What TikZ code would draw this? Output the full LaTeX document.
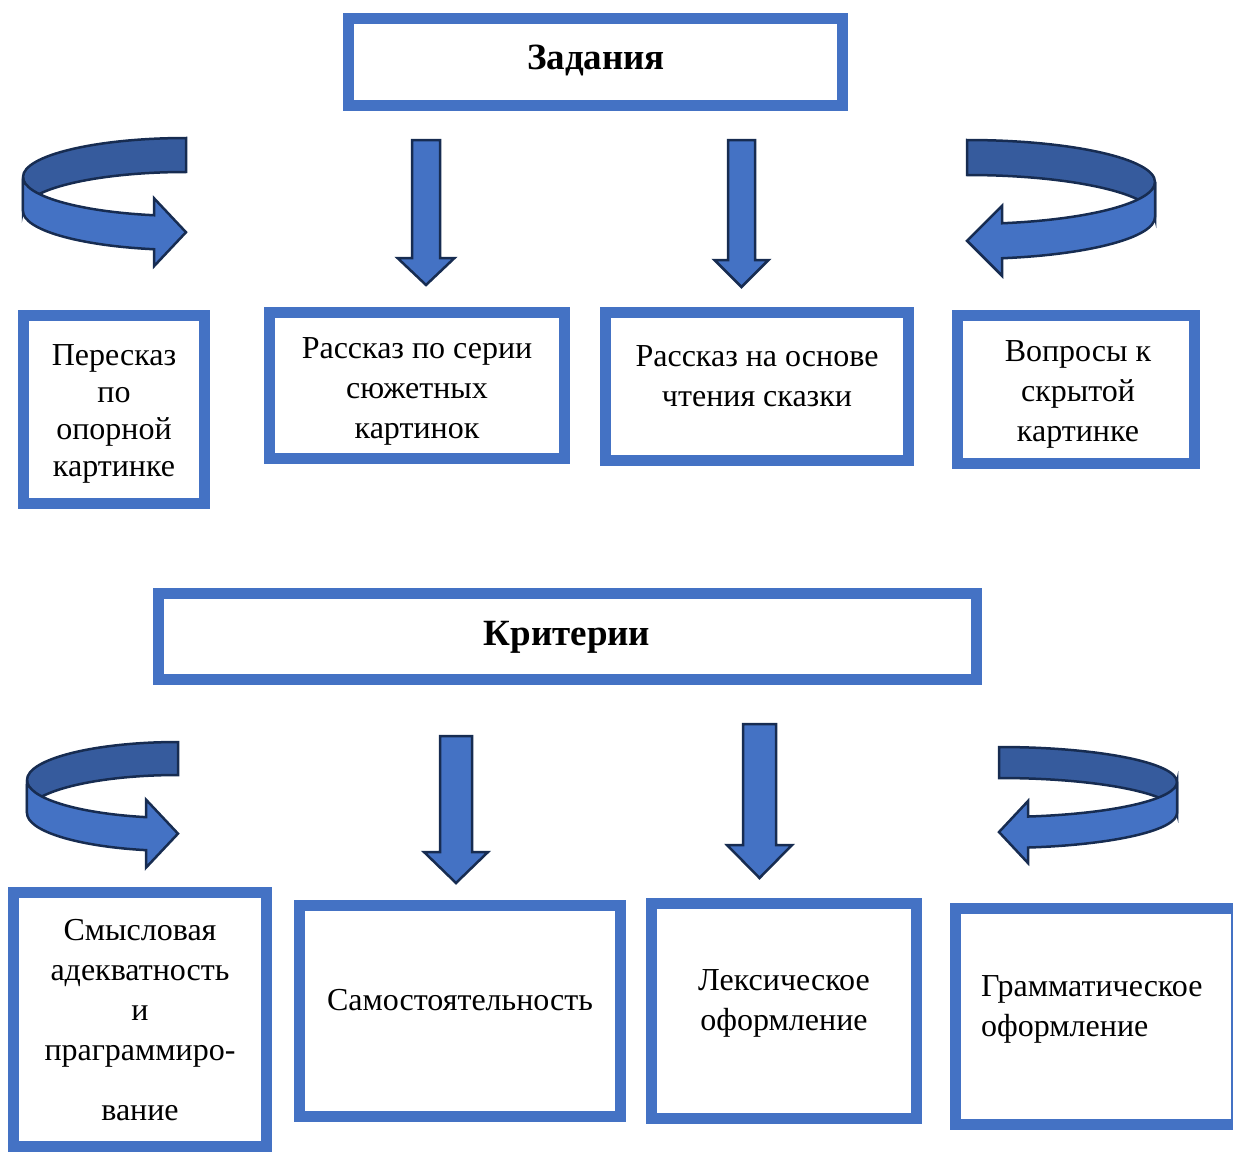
\documentclass[tikz,border=0pt]{standalone}
\usepackage{fontspec}
\setmainfont{Liberation Serif}

\definecolor{frame}{HTML}{4472C4}
\definecolor{edge}{HTML}{172C51}
\colorlet{shade}{frame!80!black}

% straight block arrow: x, top, head start, tip, half shaft, half head
\newcommand\blockdown[6]{%
  \draw[ar] ({#1-#5},#2) -- ({#1+#5},#2) -- ({#1+#5},#3) -- ({#1+#6},#3)
    -- (#1,#4) -- ({#1-#6},#3) -- ({#1-#5},#3) -- cycle;}

% turning band arrow: cx, cy, a, b, h, head length, half head, side
\newcommand\turnarrow[8]{%
  \begin{scope}[shift={(#1,#2)}, xscale=#8]
    \pgfmathsetmacro\turnang{acos(-#6/#3)}
    \pgfmathsetmacro\turny{#4*sin(\turnang)}
    \pgfmathsetmacro\turnmid{\turny+#5/2}
    \draw[ar, fill=shade] (0,-#4)
      arc[start angle=-90, end angle=-180, x radius=#3, y radius=#4]
      -- (-#3,#5) arc[start angle=180, end angle=270, x radius=#3, y radius=#4]
      -- cycle;
    \draw[ar] (-#3,0)
      arc[start angle=180, end angle=\turnang, x radius=#3, y radius=#4]
      -- (-#6,{\turnmid-#7}) -- (0,\turnmid) -- (-#6,{\turnmid+#7})
      -- (-#6,{\turny+#5})
      arc[start angle=\turnang, end angle=180, x radius=#3, y radius=#4]
      -- cycle;
  \end{scope}}

\begin{document}
\begin{tikzpicture}[x=1pt, y=-1pt,
    bx/.style={draw=frame, line width=11pt, inner sep=0pt},
    tx/.style={align=center, inner sep=0pt, font=\fontsize{32}{40}\selectfont},
    hd/.style={tx, font=\bfseries\fontsize{37}{40}\selectfont},
    ar/.style={fill=frame, draw=edge, line width=2.5pt, line join=miter}]
  \useasboundingbox (0,0) rectangle (1233,1153);

  % tasks
  \node[bx, minimum width=494pt, minimum height=87pt] (zad) at (595.5,62) {};
  \node[hd] (zadt) at (596,60) {Задания};

  \turnarrow{186}{177}{163}{39}{34}{32}{34}{1}
  \blockdown{426}{140}{258}{285}{14}{28.5}
  \blockdown{741.5}{140}{260}{287}{13.5}{27}
  \turnarrow{967}{182}{188}{42}{35}{35}{35}{-1}

  \node[bx, minimum width=181pt, minimum height=188pt] (per) at (114,409.5) {};
  \node[tx, font=\fontsize{32}{37}\selectfont] (pert) at (114,414)
    {Пересказ\\по\\опорной\\картинке};
  \node[bx, minimum width=295pt, minimum height=146pt] (ser) at (417,385.5) {};
  \node[tx] (sert) at (417,391) {Рассказ по серии\\сюжетных\\картинок};
  \node[bx, minimum width=303pt, minimum height=148pt] (osn) at (757,386.5) {};
  \node[tx] (osnt) at (757,376) {Рассказ на основе\\чтения сказки};
  \node[bx, minimum width=237pt, minimum height=148pt] (vop) at (1076,389.5) {};
  \node[tx] (vopt) at (1078,394) {Вопросы к\\скрытой\\картинке};

  % criteria
  \node[bx, minimum width=818pt, minimum height=86pt] (kri) at (567.5,636.5) {};
  \node[hd] (krit) at (567,637) {Критерии};

  \turnarrow{178}{780}{151}{38}{33}{32}{34}{1}
  \blockdown{456}{736}{852}{883}{16}{32}
  \blockdown{759.5}{724}{845}{878}{16.5}{32.5}
  \turnarrow{999}{782}{178}{35}{31}{29}{31}{-1}

  \node[bx, minimum width=253pt, minimum height=254pt] (smy) at (140,1019.5) {};
  \node[tx] (smyt) at (140,1020)
    {Смысловая\\адекватность\\и\\праграммиро-\\[20pt]вание};
  \node[bx, minimum width=321pt, minimum height=211pt] (sam) at (460,1011) {};
  \node[tx] (samt) at (460,1000) {Самостоятельность};
  \node[bx, minimum width=265pt, minimum height=215pt] (lek) at (784,1011) {};
  \node[tx] (lekt) at (784,1003) {Лексическое\\оформление};
  \node[bx, minimum width=281pt, minimum height=216pt] (gra) at (1096,1016.5) {};
  \node[tx, align=left, anchor=west] (grat) at (981,1009)
    {Грамматическое\\оформление};
\end{tikzpicture}
\end{document}
